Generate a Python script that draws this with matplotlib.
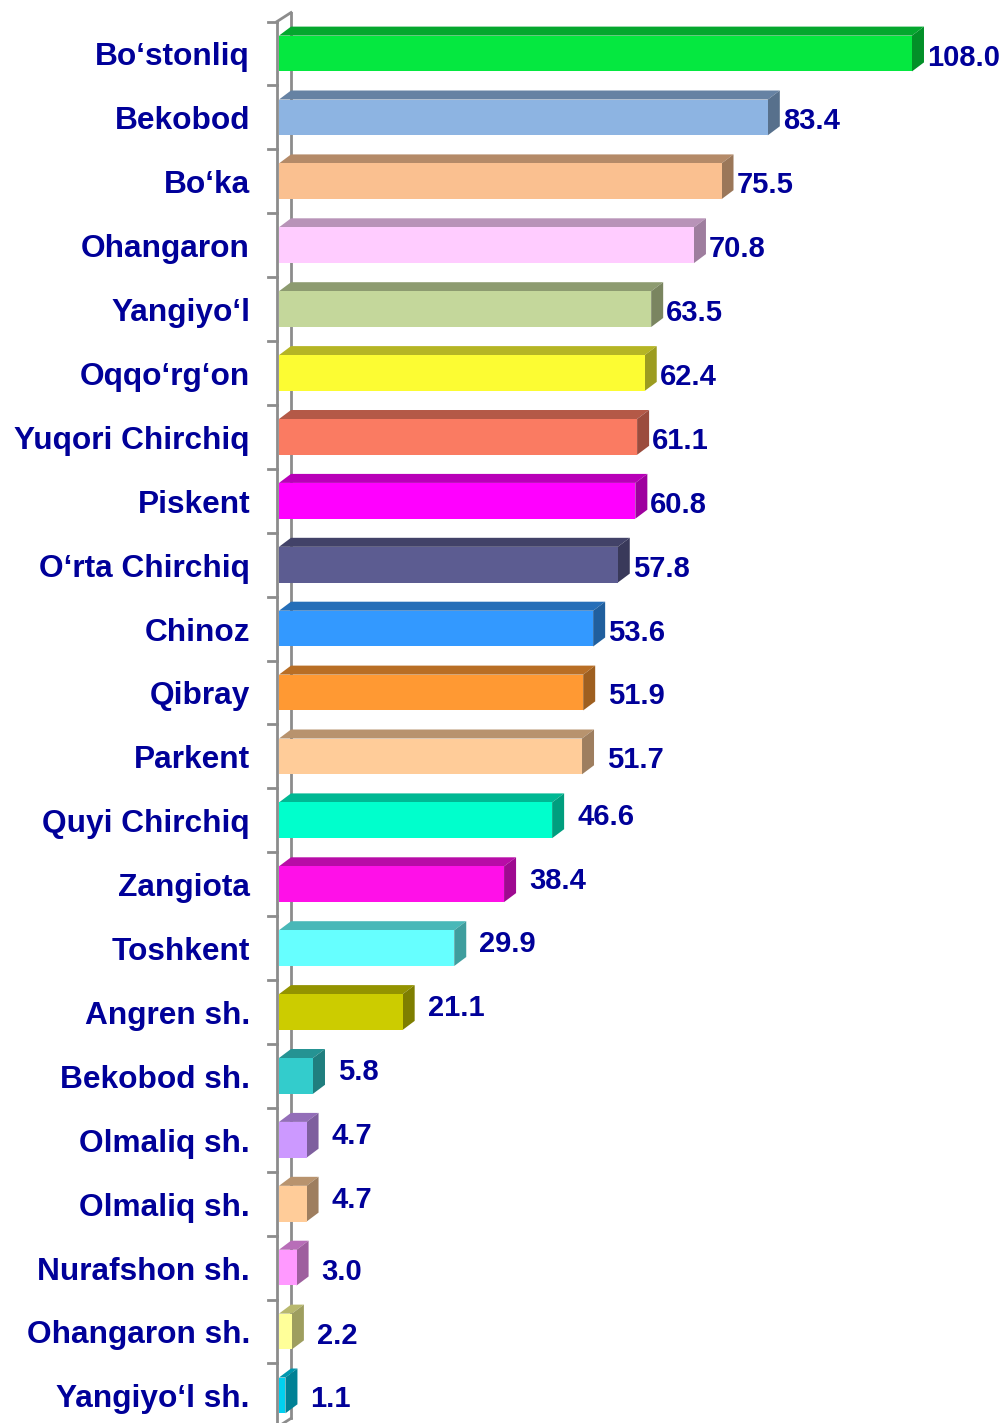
import matplotlib.pyplot as plt
from matplotlib.patches import Polygon, Rectangle
from matplotlib.colors import to_rgb

districts = ["Bo‘stonliq", "Bekobod", "Bo‘ka", "Ohangaron", "Yangiyo‘l", "Oqqo‘rg‘on",
             "Yuqori Chirchiq", "Piskent", "O‘rta Chirchiq", "Chinoz", "Qibray", "Parkent",
             "Quyi Chirchiq", "Zangiota", "Toshkent", "Angren sh.", "Bekobod sh.",
             "Olmaliq sh.", "Olmaliq sh.", "Nurafshon sh.", "Ohangaron sh.", "Yangiyo‘l sh."]
values = [108.0, 83.4, 75.5, 70.8, 63.5, 62.4, 61.1, 60.8, 57.8, 53.6, 51.9, 51.7,
          46.6, 38.4, 29.9, 21.1, 5.8, 4.7, 4.7, 3.0, 2.2, 1.1]
colors = ["#05E840", "#8DB4E2", "#FAC090", "#FFCCFF", "#C4D79B", "#FCFC33",
          "#FA7B62", "#FF00FF", "#5C5C91", "#3399FF", "#FF9933", "#FFCC99",
          "#00FFCC", "#FF10E8", "#66FFFF", "#CCCC00", "#33CCCC", "#CC99FF",
          "#FFCC99", "#FF99FF", "#FFFF99", "#00D0F0"]

TEXT = "#000099"
GREY = "#8C8C8C"

# pixel geometry of the plot
PX_X = 5.861      # pixels per unit value
PX_Y = 63.9       # pixels per category
X0, Y0 = 279, 53.5
W, H = 1004, 1423

dx = 12 / PX_X    # depth offset of the 3d bars
dy = 9 / PX_Y
half = 0.28
text_shift = 4 / PX_Y


def shade(c, f):
    r, g, b = to_rgb(c)
    return (r * f, g * f, b * f)


fig = plt.figure(figsize=(W / 100, H / 100), dpi=100)
ax = fig.add_axes([0, 0, 1, 1])
ax.set_xlim(-X0 / PX_X, (W - X0) / PX_X)
ax.set_ylim((H - Y0) / PX_Y, -Y0 / PX_Y)
ax.axis('off')

n = len(values)
front_x = -2 / PX_X
bottom = n - 0.5

# wall: back edge, top diagonal, front axis line and ticks
ax.plot([dx, dx], [-0.5 - dy, bottom - dy], color=GREY, lw=2, zorder=1)
ax.plot([front_x, dx], [-0.5, -0.5 - dy], color=GREY, lw=2, zorder=1)
ax.plot([front_x, dx], [bottom, bottom - dy], color=GREY, lw=2, zorder=1)
ax.plot([front_x, front_x], [-0.5, bottom], color=GREY, lw=2, zorder=3)
for k in range(n + 1):
    ax.plot([-11 / PX_X, front_x], [k - 0.5, k - 0.5], color=GREY, lw=2, zorder=3)

for i, (name, v, c) in enumerate(zip(districts, values, colors)):
    top, bot = i - half, i + half
    ax.add_patch(Polygon([(0, top), (v, top), (v + dx, top - dy), (dx, top - dy)],
                         closed=True, facecolor=shade(c, 0.72), edgecolor='none', zorder=2))
    ax.add_patch(Polygon([(v, top), (v + dx, top - dy), (v + dx, bot - dy), (v, bot)],
                         closed=True, facecolor=shade(c, 0.62), edgecolor='none', zorder=2))
    ax.add_patch(Rectangle((0, top), v, 2 * half, facecolor=c, edgecolor='none', zorder=2))

    ax.text(-29 / PX_X, i + text_shift, name, ha='right', va='center', color=TEXT,
            fontsize=22.8, fontweight='bold', family='Liberation Sans')

    gap = 3 if v >= 53 else 13
    raise_ = 0.12 if 3.5 < v < 50 else 0.0
    ax.text(v + dx + gap / PX_X, i + text_shift - raise_, f"{v:.1f}", ha='left', va='center',
            color=TEXT, fontsize=21, fontweight='bold', family='Liberation Sans')

fig.savefig("out.png", dpi=100)
